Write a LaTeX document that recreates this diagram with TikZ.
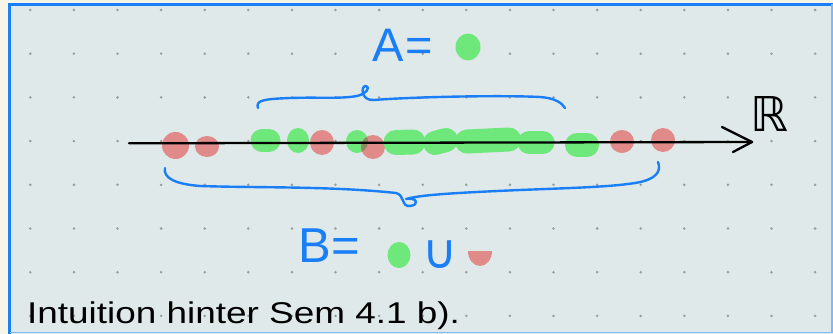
\documentclass[tikz,border=0pt]{standalone}
\usepackage{fontspec}
\setmainfont{Liberation Sans}
\newfontfamily\dejavu{DejaVu Sans}
\definecolor{bgc}{HTML}{DFE9E9}
\definecolor{cream}{HTML}{F7F4E8}
\definecolor{penc}{HTML}{1A7EF7}
\definecolor{hlgreen}{HTML}{6EE87B}
\definecolor{hlred}{HTML}{E08A8A}
\definecolor{mixc}{HTML}{8C8A5E}
\definecolor{dotc}{HTML}{979C9C}
\begin{document}
\begin{tikzpicture}[x=1pt,y=-1pt,
  pen/.style={draw=penc, line width=2.4pt, line cap=round, line join=round},
  hlstroke/.style={draw=hlgreen, line cap=round},
  reddot/.style={fill=hlred},
  greendot/.style={fill=hlgreen},
  bluetext/.style={text=penc, inner sep=0pt},
]
\useasboundingbox (0,0) rectangle (833,334);
% paper
\fill[cream] (0,0) rectangle (833,334);
\fill[bgc] (9.5,4.5) rectangle (833,334);
\draw[draw=penc, line width=3pt] (9.5,334) -- (9.5,4.5) -- (833,4.5);
\draw[draw=penc!55, line width=1.5pt] (832,4.5) -- (832,332.5) -- (9.5,332.5);
% dot grid
\foreach \i in {0,...,18}
  \foreach \j in {0,...,7}
    \fill[dotc] ({30.3+43.6*\i},{10+43.7*\j}) circle[radius=1.4];
% red points
\fill[reddot] (175.5,145.5) ellipse[x radius=13.5, y radius=13.5];
\fill[reddot] (207,146.5) ellipse[x radius=12, y radius=10.5];
% green strokes and points
\draw[hlstroke, line width=23pt] (262,140.5) -- (269,140.5);
\fill[greendot] (298,140.5) ellipse[x radius=11, y radius=12.5];
\fill[reddot] (322,142.5) ellipse[x radius=12, y radius=12.5];
\fill[greendot] (357,141.5) ellipse[x radius=11, y radius=11.5];
\fill[reddot] (373,147) ellipse[x radius=12, y radius=12];
\begin{scope}
  \clip (357,141.5) ellipse[x radius=11, y radius=11.5];
  \fill[mixc] (373,147) ellipse[x radius=12, y radius=12];
\end{scope}
\draw[hlstroke, line width=25pt] (396,142.5) -- (413,142);
\draw[hlstroke, line width=24pt] (435,143) -- (446,140);
\draw[hlstroke, line width=24pt] (467,141.5) -- (509,139.5);
\draw[hlstroke, line width=23pt] (529,142.5) -- (543,142.5);
\draw[hlstroke, line width=24pt] (577,145) -- (587,145);
\fill[reddot] (622,141.5) ellipse[x radius=12, y radius=11.5];
\fill[reddot] (663,140) ellipse[x radius=12, y radius=12];
% axis
\coordinate (axL) at (129,143.3);
\coordinate (axR) at (752,142);
\coordinate (hdU) at (722,127);
\coordinate (hdD) at (733,152);
\draw[black, line width=2.3pt, line cap=round] (axL) -- (axR);
\draw[black, line width=2.3pt, line cap=round, line join=round] (hdU) -- (axR) -- (hdD);
\node[inner sep=0pt, font=\dejavu\fontsize{48}{50}\selectfont] (R) at (769,114.5) {ℝ};
% top brace (A)
\draw[pen] (258,108) .. controls (255,100) and (265,99) .. (290,98)
  .. controls (320,97) and (340,99) .. (357,96)
  .. controls (366,94) and (371,87) .. (366,86)
  .. controls (361,85) and (360,101) .. (374,100)
  .. controls (410,97) and (500,95) .. (540,97)
  .. controls (555,98) and (562,103) .. (565,108);
% bottom brace (B)
\draw[pen] (165,168) .. controls (163,178) and (175,184) .. (200,186)
  .. controls (260,188) and (330,186) .. (396,193)
  .. controls (405,195) and (401,207) .. (410,206)
  .. controls (420,205) and (417,197) .. (406,199)
  .. controls (420,195) and (450,193) .. (520,190)
  .. controls (570,188) and (610,187) .. (635,183)
  .. controls (655,180) and (662,172) .. (658,162);
% A =
\node[bluetext, anchor=base west, font=\fontsize{47}{50}\selectfont] (Atext) at (372,62) {A\kern2pt=};
\fill[greendot] (468,47) ellipse[x radius=12.5, y radius=13.5];
% B = . cup .
\node[bluetext, anchor=base west, font=\fontsize{49}{52}\selectfont] (Btext) at (298,262) {B\kern1pt=};
\fill[greendot] (399,255) ellipse[x radius=11.5, y radius=13];
\node[bluetext, font=\dejavu\fontsize{48}{50}\selectfont] (cup) at (440,255) {∪};
\fill[hlred] (468,251) arc[start angle=180, end angle=0, x radius=12, y radius=15] -- cycle;
% caption
\node[anchor=base west, inner sep=0pt, font=\fontsize{30}{36}\selectfont] (caption) at (27,323) {\scalebox{1.23}[1]{Intuition hinter Sem 4.1 b).}};
\end{tikzpicture}
\end{document}
